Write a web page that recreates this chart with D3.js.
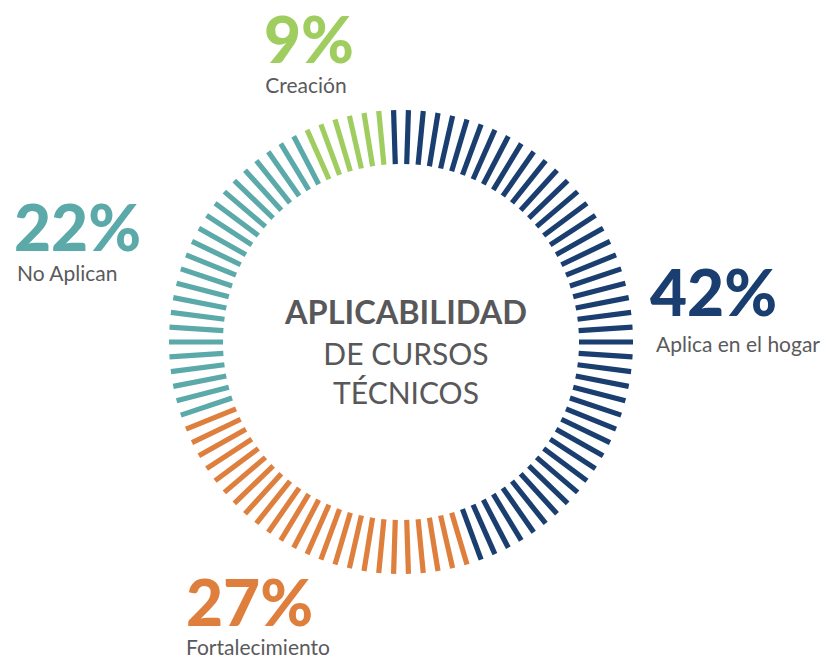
<!DOCTYPE html>
<html>
<head>
<meta charset="utf-8">
<script src="https://cdn.jsdelivr.net/npm/d3@7"></script>
<style>
  html, body { margin: 0; padding: 0; background: #ffffff; }
  svg { display: block; }
  text { font-family: Lato, "Open Sans", sans-serif; }
</style>
</head>
<body>
<svg id="chart" width="823" height="660"></svg>
<script>
// ---- data ----
const categories = ["Aplica en el hogar", "Fortalecimiento", "No Aplican", "Creación"];
const percents   = [42, 27, 22, 9];
const tickCounts = [45, 24, 23, 6];          // radial ticks drawn per category
const colors     = ["#1a3e70", "#de7f3d", "#5ca9a9", "#a0cd5f"];
const titleLines = ["APLICABILIDAD", "DE CURSOS", "TÉCNICOS"];

// ---- layout ----
const cx = 401, cy = 342, rOuter = 232, rInner = 178;
const labelPos = [
  { x: 650, y: 316, anchor: "start", sub: { x: 656, y: 352 } },
  { x: 186, y: 626, anchor: "start", sub: { x: 186, y: 655 } },
  { x: 14,  y: 251, anchor: "start", sub: { x: 17,  y: 281 } },
  { x: 309, y: 63,  anchor: "middle", sub: { x: 306, y: 93 } }
];

const svg = d3.select("#chart");

// build tick list from counts
const ticks = [];
categories.forEach((c, i) => {
  for (let j = 0; j < tickCounts[i]; j++) ticks.push({ cat: i });
});
const total = ticks.length;
const step = 2 * Math.PI / total;

const angle = d3.scaleLinear()
  .domain([0, total])
  .range([-step / 2, 2 * Math.PI - step / 2]);
const color = d3.scaleOrdinal().domain(d3.range(categories.length)).range(colors);

const g = svg.append("g").attr("transform", `translate(${cx},${cy})`);
g.selectAll("line.tick")
  .data(ticks)
  .join("line")
  .attr("class", "tick")
  .attr("x1", (d, k) => rInner * Math.sin(angle(k)))
  .attr("y1", (d, k) => -rInner * Math.cos(angle(k)))
  .attr("x2", (d, k) => rOuter * Math.sin(angle(k)))
  .attr("y2", (d, k) => -rOuter * Math.cos(angle(k)))
  .attr("stroke", d => color(d.cat))
  .attr("stroke-width", 5.2);

// center title
const titleY = [324, 365, 404];
svg.selectAll("text.title")
  .data(titleLines)
  .join("text")
  .attr("class", "title")
  .attr("x", 406)
  .attr("y", (d, i) => titleY[i])
  .attr("text-anchor", "middle")
  .attr("font-size", (d, i) => i === 0 ? 32.5 : 30)
  .attr("font-weight", (d, i) => i === 0 ? 700 : 400)
  .attr("fill", "#58585a")
  .text(d => d);

// labels
const lab = svg.selectAll("g.lab")
  .data(categories.map((c, i) => ({ c, i })))
  .join("g").attr("class", "lab");

lab.append("text")
  .attr("x", d => labelPos[d.i].x)
  .attr("y", d => labelPos[d.i].y)
  .attr("text-anchor", d => labelPos[d.i].anchor)
  .attr("font-size", 64)
  .attr("font-weight", 900)
  .attr("fill", d => colors[d.i])
  .text(d => percents[d.i] + "%");

lab.append("text")
  .attr("x", d => labelPos[d.i].sub.x)
  .attr("y", d => labelPos[d.i].sub.y)
  .attr("text-anchor", d => labelPos[d.i].anchor)
  .attr("font-size", 21)
  .attr("fill", "#5a5a5c")
  .text(d => d.c);
</script>
</body>
</html>
